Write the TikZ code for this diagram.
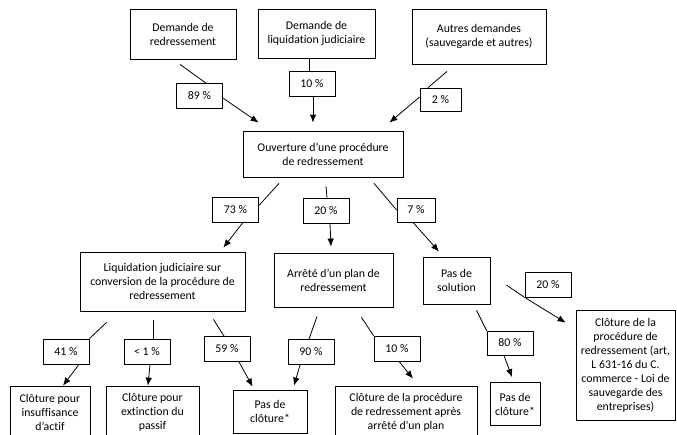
\documentclass[tikz,border=0pt]{standalone}
\usepackage{fontspec}
\setmainfont[Ligatures={TeX,NoCommon}]{Carlito}
\usetikzlibrary{arrows.meta}

\begin{document}
\begin{tikzpicture}[x=1pt,y=-1pt]

\tikzset{box/.style = {shape=rectangle,draw,line width=0.8pt,align=center,inner sep=0pt,font=\fontsize{11.8}{14}\selectfont}}
\tikzset{pct/.style = {box,fill=white,minimum width=46pt,minimum height=25pt}}
\tikzset{edge/.style = {->,> = {Latex[length=8pt,width=6.5pt]},line width=0.8pt}}

\clip (0,0) rectangle (677,434);
\fill[white] (0,0) rectangle (677,434);

%boxes
\node[box, minimum width=106pt, minimum height=50pt] (1) at (183,34) {Demande de\\redressement};
\node[box, minimum width=117pt, minimum height=49pt] (2) at (316.5,33.5) {Demande de\\liquidation judiciaire};
\node[box, minimum width=134pt, minimum height=55pt] (3) at (479,36.5) {Autres demandes\\(sauvegarde et autres)};
\node[box, minimum width=160pt, minimum height=46pt] (4) at (323,154) {Ouverture d’une procédure\\de redressement};
\node[box, minimum width=165pt, minimum height=59pt] (5) at (162.5,281.5) {Liquidation judiciaire sur\\conversion de la procédure de\\redressement};
\node[box, minimum width=119pt, minimum height=54pt] (6) at (333.5,280) {Arrêté d’un plan de\\redressement};
\node[box, minimum width=67pt, minimum height=47pt] (7) at (456.5,280.5) {Pas de\\solution};
\node[box, minimum width=80pt, minimum height=52pt] (8) at (50,412) {Clôture pour\\insuffisance\\d’actif};
\node[box, minimum width=93pt, minimum height=52pt] (9) at (152.5,412) {Clôture pour\\extinction du\\passif};
\node[box, minimum width=74pt, minimum height=43pt] (10) at (270,411.5) {Pas de\\clôture*};
\node[box, minimum width=142pt, minimum height=52pt] (11) at (406,412) {Clôture de la procédure\\de redressement après\\arrêté d\textquotesingle un plan};
\node[box, minimum width=50pt, minimum height=43pt] (12) at (515,404) {Pas de\\clôture*};
\node[box, minimum width=99pt, minimum height=110pt] (13) at (625.5,365) {Clôture de la\\procédure de\\redressement (art,\\L 631-16 du C.\\commerce - Loi de\\sauvegarde des\\entreprises)};

%percentages
\node[pct] (p1) at (199.5,96) {89 \%};
\node[pct] (p2) at (312,83.5) {10 \%};
\node[pct, minimum width=41pt, minimum height=23pt] (p3) at (440.5,99.5) {2 \%};
\node[pct] (p4) at (235.5,209.5) {73 \%};
\node[pct] (p5) at (326,210.5) {20 \%};
\node[pct, minimum width=38pt, minimum height=24pt] (p6) at (416,210) {7 \%};
\node[pct] (p7) at (66,351.5) {41 \%};
\node[pct] (p8) at (147,351.5) {< 1 \%};
\node[pct] (p9) at (227,349) {59 \%};
\node[pct] (p10) at (311,352) {90 \%};
\node[pct] (p11) at (397,348.5) {10 \%};
\node[pct, minimum height=24pt] (p12) at (510,343) {80 \%};
\node[pct] (p13) at (548,284.5) {20 \%};

%edges
\draw[line width=0.8pt] ([xshift=-3pt,yshift=-5pt]1.south) -- ([xshift=6.5pt]p1.north);
\draw[edge] ([yshift=-2pt]p1.east) -- ([xshift=16pt,yshift=8pt]4.north west);
\draw[line width=0.8pt] ([xshift=-7.5pt]2.south) -- ([xshift=-3pt]p2.north);
\draw[edge] ([xshift=1pt]p2.south) -- ([xshift=-10pt,yshift=8pt]4.north);
\draw[line width=0.8pt] ([xshift=-32pt,yshift=-7pt]3.south) -- ([xshift=-12.5pt]p3.north);
\draw[edge] ([yshift=2.5pt]p3.west) -- ([xshift=-14pt,yshift=8pt]4.north east);

\draw[line width=0.8pt] ([xshift=-44pt,yshift=-6pt]4.south) -- ([yshift=4pt]p4.east);
\draw[edge] ([xshift=7.5pt]p4.south) -- ([xshift=-22pt,yshift=4pt]5.north east);
\draw[line width=0.8pt] ([xshift=3pt,yshift=-9pt]4.south) -- ([xshift=1pt]p5.north);
\draw[edge] ([xshift=4pt]p5.south) -- ([xshift=-2.5pt,yshift=6pt]6.north);
\draw[line width=0.8pt] ([xshift=51pt,yshift=-6pt]4.south) -- (p6.west);
\draw[edge] ([xshift=-3pt]p6.south) -- ([xshift=-17.5pt,yshift=5pt]7.north);

\draw[line width=0.8pt] ([xshift=27pt,yshift=-11pt]5.south west) -- (p7.north east);
\draw[edge] ([xshift=13pt]p7.south) -- ([xshift=13pt]8.north);
\draw[line width=0.8pt] ([xshift=-9.5pt,yshift=-9pt]5.south) -- ([xshift=6pt]p8.north);
\draw[edge] ([xshift=3pt]p8.south) -- ([xshift=-4.5pt]9.north);
\draw[line width=0.8pt] ([xshift=-32pt,yshift=-8pt]5.south east) -- ([xshift=-3pt]p9.north);
\draw[edge] ([xshift=12pt]p9.south) -- ([xshift=20pt,yshift=3pt]10.north west);

\draw[line width=0.8pt] ([xshift=-16.5pt,yshift=-9pt]6.south) -- ([xshift=-2pt]p10.north);
\draw[edge] ([xshift=-11pt]p10.south) -- ([xshift=24pt,yshift=4pt]10.north);
\draw[line width=0.8pt] ([xshift=-32pt,yshift=-10pt]6.south east) -- (p11.north west);
\draw[edge] ([xshift=2pt]p11.south) -- ([xshift=7pt,yshift=7pt]11.north);

\draw[line width=0.8pt] ([xshift=20pt,yshift=-6pt]7.south) -- (p12.north west);
\draw[edge] ([xshift=-6pt]p12.south) -- ([xshift=-3pt,yshift=5pt]12.north);
\draw[line width=0.8pt] ([xshift=16pt,yshift=-4.5pt]7.east) -- (p13.south west);
\draw[edge] (p13.south west) -- ([xshift=-10pt,yshift=-13pt]13.north west);

\end{tikzpicture}
\end{document}
